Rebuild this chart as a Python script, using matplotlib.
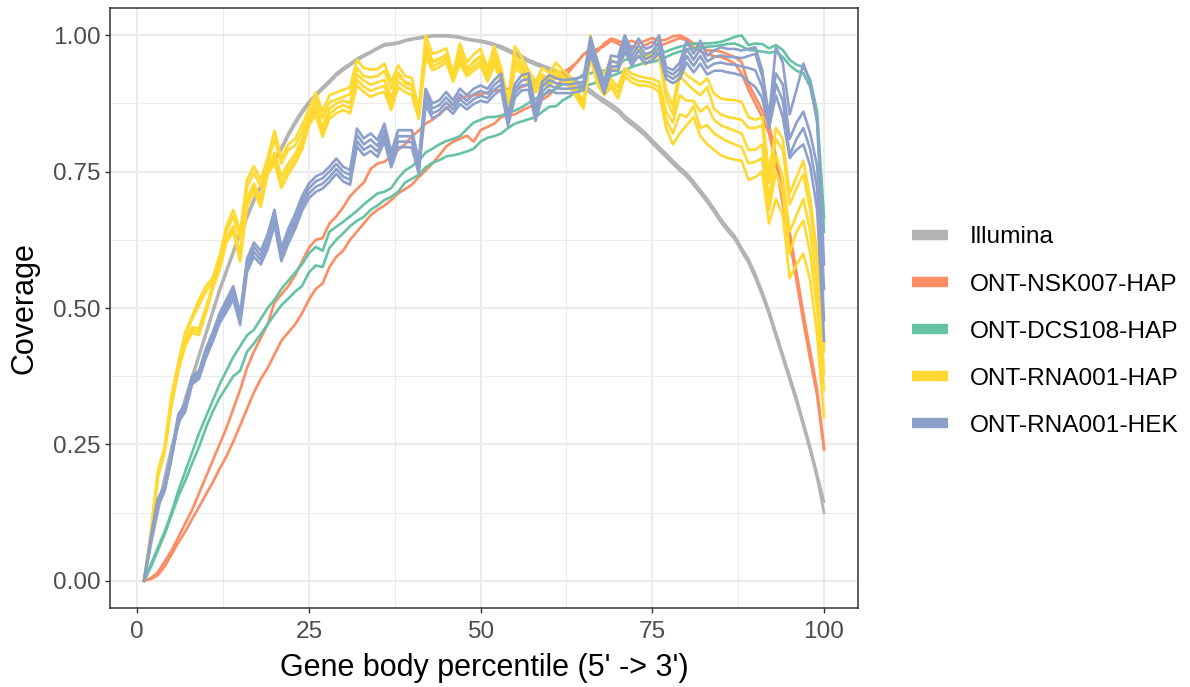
import numpy as np
import matplotlib
matplotlib.use("Agg")
import matplotlib.pyplot as plt
from matplotlib.lines import Line2D

plt.rcParams['font.family'] = ['Liberation Sans', 'DejaVu Sans']

groups = ["Illumina", "ONT-NSK007-HAP", "ONT-DCS108-HAP", "ONT-RNA001-HAP", "ONT-RNA001-HEK"]
colors = ["#B3B3B3", "#FC8D62", "#66C2A5", "#FFD92F", "#8DA0CB"]

x_ticks = [0, 25, 50, 75, 100]
y_ticks = [0.0, 0.25, 0.5, 0.75, 1.0]
y_tick_labels = ["0.00", "0.25", "0.50", "0.75", "1.00"]

illumina_1 = [0, 0.07, 0.13, 0.19, 0.245, 0.29, 0.335, 0.375, 0.415, 0.455,
              0.495, 0.535, 0.57, 0.605, 0.64, 0.67, 0.70, 0.725, 0.75, 0.773,
              0.795, 0.82, 0.842, 0.862, 0.878, 0.892, 0.905, 0.917, 0.93, 0.94,
              0.948, 0.957, 0.964, 0.97, 0.977, 0.984, 0.985, 0.987, 0.991, 0.994,
              0.996, 0.998, 1.0, 1.0, 1.0, 0.999, 0.997, 0.994, 0.992, 0.99,
              0.988, 0.984, 0.98, 0.974, 0.968, 0.962, 0.955, 0.95, 0.945, 0.94,
              0.935, 0.93, 0.924, 0.916, 0.908, 0.90, 0.89, 0.882, 0.874, 0.865,
              0.852, 0.842, 0.832, 0.821, 0.808, 0.795, 0.783, 0.77, 0.758, 0.747,
              0.732, 0.716, 0.70, 0.682, 0.663, 0.647, 0.632, 0.61, 0.59, 0.562,
              0.53, 0.495, 0.455, 0.415, 0.375, 0.335, 0.29, 0.245, 0.195, 0.145]
illumina_2 = [0, 0.065, 0.125, 0.185, 0.24, 0.285, 0.33, 0.37, 0.41, 0.45,
              0.49, 0.53, 0.565, 0.60, 0.635, 0.665, 0.695, 0.72, 0.745, 0.768,
              0.79, 0.815, 0.837, 0.857, 0.874, 0.888, 0.901, 0.913, 0.926, 0.936,
              0.945, 0.954, 0.961, 0.968, 0.975, 0.981, 0.983, 0.985, 0.989, 0.992,
              0.994, 0.996, 0.998, 0.998, 0.998, 0.997, 0.995, 0.992, 0.99, 0.988,
              0.985, 0.981, 0.976, 0.97, 0.964, 0.958, 0.951, 0.946, 0.941, 0.936,
              0.931, 0.925, 0.919, 0.911, 0.902, 0.894, 0.885, 0.876, 0.868, 0.859,
              0.846, 0.836, 0.826, 0.815, 0.802, 0.789, 0.777, 0.764, 0.752, 0.741,
              0.726, 0.71, 0.694, 0.676, 0.657, 0.641, 0.626, 0.604, 0.583, 0.555,
              0.523, 0.488, 0.448, 0.408, 0.368, 0.328, 0.283, 0.238, 0.188, 0.125]

nsk_1 = [0, 0.005, 0.015, 0.035, 0.055, 0.08, 0.105, 0.13, 0.16, 0.19,
         0.22, 0.25, 0.28, 0.315, 0.35, 0.39, 0.42, 0.445, 0.47, 0.51,
         0.525, 0.54, 0.56, 0.585, 0.61, 0.625, 0.628, 0.655, 0.668, 0.685,
         0.705, 0.718, 0.73, 0.755, 0.765, 0.768, 0.778, 0.79, 0.80, 0.815,
         0.825, 0.838, 0.845, 0.856, 0.866, 0.875, 0.885, 0.888, 0.89, 0.892,
         0.895, 0.898, 0.90, 0.902, 0.905, 0.905, 0.91, 0.915, 0.92, 0.925,
         0.928, 0.932, 0.94, 0.95, 0.965, 0.975, 0.97, 0.985, 0.994, 0.99,
         0.985, 0.99, 0.985, 0.99, 0.995, 0.99, 0.992, 0.998, 1.0, 0.994,
         0.985, 0.98, 0.972, 0.972, 0.97, 0.965, 0.96, 0.951, 0.911, 0.887,
         0.863, 0.835, 0.78, 0.705, 0.64, 0.565, 0.49, 0.42, 0.35, 0.245]
nsk_2 = [0, 0.003, 0.01, 0.026, 0.048, 0.07, 0.09, 0.113, 0.135, 0.158,
         0.18, 0.205, 0.228, 0.255, 0.285, 0.315, 0.345, 0.37, 0.39, 0.415,
         0.44, 0.455, 0.47, 0.49, 0.515, 0.535, 0.545, 0.575, 0.594, 0.605,
         0.625, 0.64, 0.655, 0.67, 0.68, 0.688, 0.698, 0.71, 0.718, 0.726,
         0.74, 0.752, 0.765, 0.78, 0.796, 0.805, 0.81, 0.816, 0.805, 0.826,
         0.832, 0.838, 0.85, 0.853, 0.855, 0.862, 0.868, 0.875, 0.882, 0.89,
         0.905, 0.92, 0.935, 0.95, 0.965, 0.97, 0.975, 0.98, 0.99, 0.985,
         0.975, 0.98, 0.975, 0.982, 0.988, 0.98, 0.985, 0.99, 0.995, 0.99,
         0.978, 0.97, 0.965, 0.962, 0.96, 0.955, 0.948, 0.93, 0.90, 0.875,
         0.85, 0.82, 0.765, 0.69, 0.625, 0.55, 0.475, 0.405, 0.34, 0.24]

dcs_1 = [0, 0.03, 0.06, 0.09, 0.125, 0.165, 0.20, 0.235, 0.27, 0.30,
         0.33, 0.36, 0.385, 0.41, 0.43, 0.45, 0.46, 0.48, 0.50, 0.515,
         0.535, 0.55, 0.565, 0.58, 0.60, 0.612, 0.605, 0.64, 0.649, 0.658,
         0.668, 0.678, 0.69, 0.70, 0.71, 0.713, 0.72, 0.738, 0.752, 0.76,
         0.77, 0.785, 0.792, 0.80, 0.806, 0.81, 0.815, 0.828, 0.84, 0.845,
         0.85, 0.85, 0.853, 0.857, 0.862, 0.868, 0.876, 0.884, 0.89, 0.896,
         0.902, 0.911, 0.915, 0.92, 0.928, 0.93, 0.935, 0.935, 0.94, 0.945,
         0.955, 0.957, 0.96, 0.963, 0.966, 0.968, 0.97, 0.975, 0.979, 0.982,
         0.985, 0.985, 0.985, 0.986, 0.988, 0.992, 0.997, 1.0, 0.982, 0.985,
         0.984, 0.976, 0.982, 0.973, 0.955, 0.946, 0.942, 0.918, 0.86, 0.665]
dcs_2 = [0, 0.025, 0.055, 0.085, 0.12, 0.155, 0.183, 0.215, 0.245, 0.28,
         0.31, 0.335, 0.355, 0.375, 0.385, 0.42, 0.435, 0.452, 0.47, 0.488,
         0.505, 0.517, 0.53, 0.54, 0.565, 0.578, 0.575, 0.61, 0.625, 0.637,
         0.65, 0.66, 0.667, 0.68, 0.688, 0.698, 0.704, 0.713, 0.73, 0.737,
         0.744, 0.758, 0.766, 0.771, 0.778, 0.78, 0.783, 0.787, 0.792, 0.805,
         0.812, 0.815, 0.82, 0.83, 0.838, 0.842, 0.846, 0.85, 0.86, 0.869,
         0.87, 0.881, 0.888, 0.898, 0.906, 0.91, 0.914, 0.92, 0.925, 0.93,
         0.935, 0.942, 0.946, 0.95, 0.951, 0.955, 0.96, 0.966, 0.97, 0.974,
         0.976, 0.978, 0.979, 0.98, 0.982, 0.984, 0.985, 0.98, 0.973, 0.972,
         0.97, 0.968, 0.97, 0.96, 0.945, 0.935, 0.93, 0.905, 0.845, 0.64]

rnahap_1 = [0, 0.09, 0.20, 0.245, 0.34, 0.40, 0.455, 0.485, 0.515, 0.54,
            0.555, 0.595, 0.65, 0.68, 0.64, 0.735, 0.76, 0.735, 0.775, 0.825,
            0.775, 0.80, 0.81, 0.835, 0.865, 0.895, 0.86, 0.89, 0.895, 0.90,
            0.905, 0.955, 0.94, 0.937, 0.938, 0.948, 0.915, 0.945, 0.925, 0.922,
            0.86, 1.0, 0.966, 0.97, 0.976, 0.93, 0.985, 0.95, 0.965, 0.975,
            0.94, 0.98, 0.94, 0.88, 0.98, 0.96, 0.935, 0.915, 0.94, 0.93,
            0.95, 0.935, 0.925, 0.90, 0.88, 1.0, 0.94, 0.93, 0.955, 0.948,
            0.982, 0.966, 0.976, 0.957, 0.97, 0.976, 0.90, 0.87, 0.94, 0.927,
            0.918, 0.909, 0.921, 0.893, 0.884, 0.882, 0.881, 0.878, 0.85, 0.845,
            0.85, 0.75, 0.83, 0.81, 0.71, 0.74, 0.77, 0.70, 0.60, 0.435]
rnahap_2 = [0, 0.085, 0.19, 0.24, 0.335, 0.395, 0.45, 0.48, 0.505, 0.53,
            0.548, 0.588, 0.64, 0.668, 0.628, 0.722, 0.748, 0.722, 0.765, 0.81,
            0.765, 0.79, 0.798, 0.822, 0.852, 0.882, 0.848, 0.877, 0.882, 0.887,
            0.892, 0.94, 0.925, 0.923, 0.925, 0.935, 0.902, 0.932, 0.912, 0.908,
            0.85, 0.985, 0.953, 0.957, 0.963, 0.918, 0.972, 0.937, 0.952, 0.962,
            0.928, 0.967, 0.928, 0.87, 0.965, 0.948, 0.924, 0.905, 0.928, 0.918,
            0.938, 0.924, 0.914, 0.892, 0.872, 0.985, 0.93, 0.915, 0.94, 0.935,
            0.968, 0.955, 0.963, 0.946, 0.958, 0.962, 0.885, 0.855, 0.925, 0.912,
            0.90, 0.89, 0.905, 0.865, 0.855, 0.85, 0.848, 0.845, 0.83, 0.83,
            0.835, 0.73, 0.81, 0.79, 0.69, 0.72, 0.745, 0.68, 0.58, 0.42]
rnahap_3 = [0, 0.085, 0.195, 0.24, 0.33, 0.39, 0.44, 0.465, 0.462, 0.50,
            0.542, 0.578, 0.628, 0.65, 0.60, 0.70, 0.728, 0.70, 0.755, 0.785,
            0.742, 0.765, 0.782, 0.808, 0.85, 0.87, 0.832, 0.865, 0.875, 0.88,
            0.876, 0.928, 0.917, 0.909, 0.914, 0.918, 0.885, 0.925, 0.915, 0.91,
            0.865, 0.975, 0.95, 0.956, 0.965, 0.928, 0.962, 0.94, 0.95, 0.96,
            0.93, 0.96, 0.93, 0.876, 0.955, 0.942, 0.922, 0.905, 0.928, 0.918,
            0.937, 0.926, 0.916, 0.894, 0.875, 0.975, 0.925, 0.905, 0.92, 0.905,
            0.94, 0.93, 0.925, 0.922, 0.92, 0.915, 0.86, 0.84, 0.89, 0.88,
            0.88, 0.86, 0.87, 0.845, 0.835, 0.83, 0.825, 0.82, 0.79, 0.79,
            0.80, 0.70, 0.78, 0.74, 0.64, 0.67, 0.70, 0.64, 0.54, 0.38]
rnahap_4 = [0, 0.082, 0.19, 0.238, 0.325, 0.388, 0.435, 0.46, 0.456, 0.495,
            0.538, 0.574, 0.624, 0.645, 0.592, 0.692, 0.72, 0.692, 0.75, 0.775,
            0.73, 0.755, 0.773, 0.798, 0.842, 0.862, 0.823, 0.856, 0.866, 0.872,
            0.866, 0.918, 0.906, 0.898, 0.903, 0.907, 0.874, 0.915, 0.905, 0.90,
            0.856, 0.968, 0.943, 0.949, 0.958, 0.922, 0.955, 0.932, 0.942, 0.952,
            0.922, 0.952, 0.922, 0.87, 0.948, 0.936, 0.916, 0.90, 0.921, 0.911,
            0.931, 0.92, 0.91, 0.89, 0.87, 0.968, 0.918, 0.898, 0.912, 0.895,
            0.932, 0.922, 0.916, 0.915, 0.912, 0.905, 0.845, 0.82, 0.855, 0.85,
            0.87, 0.83, 0.835, 0.82, 0.812, 0.805, 0.80, 0.795, 0.765, 0.768,
            0.775, 0.68, 0.75, 0.71, 0.60, 0.64, 0.66, 0.60, 0.50, 0.35]
rnahap_5 = [0, 0.08, 0.19, 0.235, 0.32, 0.385, 0.43, 0.455, 0.45, 0.49,
            0.535, 0.57, 0.62, 0.64, 0.585, 0.685, 0.715, 0.685, 0.745, 0.765,
            0.72, 0.745, 0.765, 0.79, 0.835, 0.853, 0.814, 0.847, 0.857, 0.863,
            0.857, 0.908, 0.896, 0.887, 0.893, 0.896, 0.863, 0.905, 0.896, 0.89,
            0.847, 0.96, 0.936, 0.942, 0.951, 0.915, 0.948, 0.925, 0.935, 0.945,
            0.915, 0.945, 0.915, 0.865, 0.94, 0.93, 0.91, 0.895, 0.915, 0.905,
            0.925, 0.915, 0.905, 0.885, 0.865, 0.96, 0.91, 0.89, 0.905, 0.884,
            0.924, 0.914, 0.908, 0.908, 0.905, 0.896, 0.83, 0.80, 0.82, 0.835,
            0.85, 0.815, 0.80, 0.79, 0.78, 0.775, 0.772, 0.77, 0.735, 0.74,
            0.75, 0.655, 0.70, 0.67, 0.555, 0.58, 0.60, 0.55, 0.45, 0.30]

rnahek_1 = [0, 0.08, 0.15, 0.175, 0.235, 0.305, 0.325, 0.375, 0.385, 0.425,
            0.455, 0.49, 0.515, 0.54, 0.49, 0.59, 0.62, 0.605, 0.635, 0.68,
            0.61, 0.645, 0.672, 0.705, 0.728, 0.741, 0.747, 0.759, 0.774, 0.759,
            0.753, 0.829, 0.811, 0.82, 0.808, 0.838, 0.786, 0.826, 0.826, 0.826,
            0.771, 0.902, 0.875, 0.881, 0.896, 0.881, 0.902, 0.89, 0.902, 0.908,
            0.902, 0.918, 0.93, 0.853, 0.911, 0.927, 0.93, 0.866, 0.915, 0.927,
            0.921, 0.918, 0.919, 0.921, 0.924, 0.997, 0.954, 0.915, 0.963, 0.96,
            1.0, 0.972, 0.994, 0.975, 0.98, 1.0, 0.942, 0.936, 0.95, 0.99,
            0.966, 0.99, 0.963, 0.972, 0.978, 0.975, 0.975, 0.972, 0.975, 0.978,
            0.936, 0.85, 0.978, 0.95, 0.855, 0.90, 0.948, 0.914, 0.84, 0.58]
rnahek_2 = [0, 0.078, 0.145, 0.172, 0.23, 0.30, 0.32, 0.37, 0.38, 0.42,
            0.45, 0.484, 0.508, 0.532, 0.483, 0.582, 0.612, 0.596, 0.626, 0.67,
            0.602, 0.636, 0.663, 0.696, 0.719, 0.732, 0.738, 0.75, 0.764, 0.75,
            0.744, 0.818, 0.80, 0.809, 0.797, 0.826, 0.776, 0.815, 0.815, 0.815,
            0.762, 0.892, 0.866, 0.872, 0.886, 0.872, 0.892, 0.88, 0.892, 0.898,
            0.893, 0.909, 0.92, 0.846, 0.902, 0.917, 0.92, 0.858, 0.906, 0.918,
            0.912, 0.91, 0.91, 0.912, 0.915, 0.985, 0.945, 0.907, 0.952, 0.95,
            0.99, 0.962, 0.982, 0.965, 0.97, 0.988, 0.935, 0.928, 0.94, 0.975,
            0.955, 0.975, 0.952, 0.96, 0.963, 0.96, 0.96, 0.958, 0.962, 0.966,
            0.925, 0.845, 0.93, 0.91, 0.81, 0.84, 0.86, 0.82, 0.76, 0.535]
rnahek_3 = [0, 0.075, 0.14, 0.168, 0.226, 0.295, 0.315, 0.365, 0.375, 0.414,
            0.444, 0.478, 0.50, 0.524, 0.476, 0.574, 0.603, 0.588, 0.617, 0.661,
            0.594, 0.627, 0.654, 0.687, 0.71, 0.722, 0.728, 0.74, 0.755, 0.741,
            0.735, 0.806, 0.79, 0.798, 0.787, 0.815, 0.767, 0.805, 0.805, 0.804,
            0.754, 0.882, 0.857, 0.863, 0.877, 0.864, 0.883, 0.872, 0.883, 0.889,
            0.885, 0.90, 0.91, 0.84, 0.894, 0.908, 0.91, 0.85, 0.897, 0.909,
            0.903, 0.902, 0.902, 0.904, 0.907, 0.975, 0.937, 0.90, 0.943, 0.942,
            0.98, 0.953, 0.972, 0.956, 0.962, 0.978, 0.928, 0.92, 0.93, 0.962,
            0.944, 0.962, 0.94, 0.948, 0.95, 0.947, 0.946, 0.943, 0.94, 0.936,
            0.905, 0.838, 0.91, 0.88, 0.78, 0.81, 0.83, 0.79, 0.72, 0.478]
rnahek_4 = [0, 0.072, 0.135, 0.164, 0.222, 0.29, 0.31, 0.36, 0.37, 0.408,
            0.438, 0.472, 0.493, 0.516, 0.469, 0.566, 0.594, 0.58, 0.608, 0.652,
            0.586, 0.618, 0.645, 0.678, 0.701, 0.713, 0.719, 0.731, 0.746, 0.732,
            0.726, 0.796, 0.78, 0.788, 0.777, 0.805, 0.758, 0.795, 0.795, 0.794,
            0.746, 0.872, 0.848, 0.854, 0.868, 0.856, 0.874, 0.864, 0.874, 0.88,
            0.877, 0.891, 0.90, 0.834, 0.886, 0.899, 0.90, 0.843, 0.888, 0.90,
            0.894, 0.894, 0.894, 0.896, 0.899, 0.965, 0.93, 0.893, 0.935, 0.935,
            0.97, 0.945, 0.962, 0.948, 0.954, 0.968, 0.92, 0.912, 0.92, 0.95,
            0.932, 0.948, 0.928, 0.935, 0.935, 0.932, 0.93, 0.926, 0.915, 0.905,
            0.885, 0.83, 0.89, 0.85, 0.775, 0.79, 0.80, 0.76, 0.68, 0.44]

series = {
    "Illumina": [illumina_1, illumina_2],
    "ONT-NSK007-HAP": [nsk_1, nsk_2],
    "ONT-DCS108-HAP": [dcs_1, dcs_2],
    "ONT-RNA001-HAP": [rnahap_1, rnahap_2, rnahap_3, rnahap_4, rnahap_5],
    "ONT-RNA001-HEK": [rnahek_1, rnahek_2, rnahek_3, rnahek_4],
}

W, H = 1190, 687
fig = plt.figure(figsize=(W / 100, H / 100), dpi=100)
L, R, T, B = 110, 858, 8, 608
ax = fig.add_axes([L / W, 1 - B / H, (R - L) / W, (B - T) / H])

for g, c in zip(groups, colors):
    for vals in series[g]:
        xs = np.arange(1, len(vals) + 1)
        ax.plot(xs, vals, color=c, lw=1.9, solid_joinstyle='round', zorder=3)

ax.set_xlim(-3.95, 104.95)
ax.set_ylim(-0.05, 1.05)
ax.set_xticks(x_ticks)
ax.set_xticklabels([str(v) for v in x_ticks])
ax.set_yticks(y_ticks)
ax.set_yticklabels(y_tick_labels)
ax.set_xticks([12.5, 37.5, 62.5, 87.5], minor=True)
ax.set_yticks([0.125, 0.375, 0.625, 0.875], minor=True)
ax.grid(which='major', color='#EBEBEB', lw=1.5, zorder=0)
ax.grid(which='minor', color='#EBEBEB', lw=0.75, zorder=0)
ax.set_axisbelow(True)
ax.tick_params(which='minor', length=0)
ax.tick_params(which='major', length=3.5, width=1.0, color='#333333',
               labelcolor='#4D4D4D', labelsize=17.6)
ax.tick_params(axis='x', which='major', pad=6)
ax.tick_params(axis='y', which='major', pad=3)
for s in ax.spines.values():
    s.set_color('#333333')
    s.set_linewidth(1.1)

ax.set_xlabel("Gene body percentile (5' -> 3')", fontsize=22, color='black', labelpad=7)
ax.set_ylabel("Coverage", fontsize=22, color='black', labelpad=10)

handles = [Line2D([0], [0], color=c, lw=7.5, solid_capstyle='butt') for c in colors]
fig.legend(handles, groups, loc='center left', bbox_to_anchor=(912 / W, 1 - 331.5 / H),
           frameon=False, fontsize=17.6, handlelength=1.47, handletextpad=0.9,
           labelspacing=1.02, borderpad=0, borderaxespad=0)

fig.savefig("out.png", dpi=100)
